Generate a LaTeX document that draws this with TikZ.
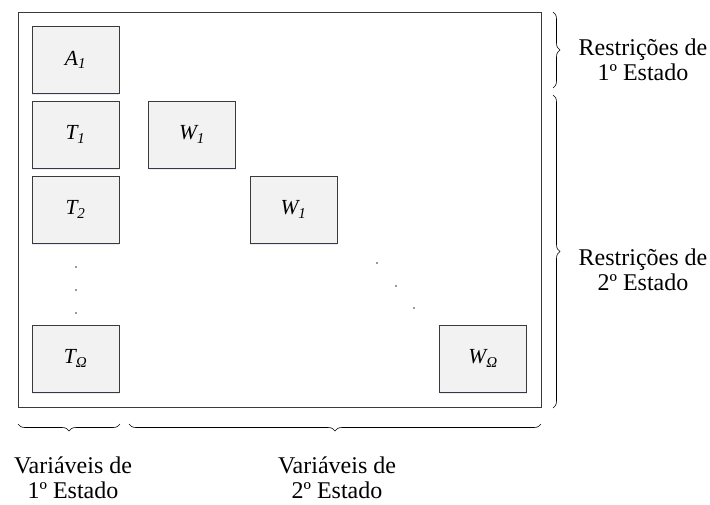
\documentclass[tikz,border=0pt]{standalone}
\usepackage{fontspec}
\setmainfont{Liberation Serif}
\usepackage{tikz}
\usetikzlibrary{positioning, decorations.pathreplacing, shadows}

\definecolor{boxfill}{HTML}{F2F2F2}
\definecolor{boxline}{HTML}{3A3A3A}

\begin{document}
\begin{tikzpicture}[
    x=1pt, y=-1pt,
    block/.style={rectangle, draw=boxline, line width=0.9pt, fill=boxfill,
        minimum width=87pt, minimum height=67pt, inner sep=0pt,
        font=\fontsize{21.5}{24}\selectfont\itshape,
        drop shadow={shadow xshift=0pt, shadow yshift=-1.5pt, fill=blue!25, opacity=0.35}},
    label/.style={align=center, font=\fontsize{24}{25}\selectfont, inner sep=0pt},
    brace/.style={decorate, decoration={brace, amplitude=7pt}, line width=0.6pt},
    dot/.style={circle, fill=black!80, inner sep=0pt, minimum size=1.6pt}
]
\useasboundingbox (0,0) rectangle (710,504);
% moldura da matriz
\draw[boxline, line width=0.9pt] (18,12) rectangle (541,407);

% blocos
\node[block] (a1) at (75.5,60) {A\textsubscript{1}};
\node[block] (t1) at (75.5,134.5) {T\textsubscript{1}};
\node[block] (w1) at (192,134.5) {W\textsubscript{1}};
\node[block] (t2) at (75.5,209.5) {T\textsubscript{2}};
\node[block] (w2) at (293.5,209.5) {W\textsubscript{1}};
\node[block] (tom) at (75.5,358.5) {T\textsubscript{Ω}};
\node[block] (wom) at (483,358.5) {W\textsubscript{Ω}};

% reticencias
\node[dot] (v1) at (76,267) {};
\node[dot] (v2) at (76,290) {};
\node[dot] (v3) at (76,313) {};
\node[dot] (d1) at (377,263) {};
\node[dot] (d2) at (396,286) {};
\node[dot] (d3) at (414,308) {};

% chaves laterais
\coordinate (r1a) at (553,12);
\coordinate (r1b) at (553,88);
\coordinate (r2a) at (553,95);
\coordinate (r2b) at (553,408);
\draw[brace] (r1a) -- (r1b);
\draw[brace] (r2a) -- (r2b);
\node[label, anchor=base] (rest1) at (643,80) {Restrições de\\1º Estado};
\node[label, anchor=base] (rest2) at (643,290) {Restrições de\\2º Estado};

% chaves inferiores
\coordinate (b1a) at (120,424);
\coordinate (b1b) at (18,424);
\coordinate (b2a) at (541,424);
\coordinate (b2b) at (129,424);
\draw[brace] (b1a) -- (b1b);
\draw[brace] (b2a) -- (b2b);
\node[label, anchor=base] (var1) at (73,498) {Variáveis de\\1º Estado};
\node[label, anchor=base] (var2) at (337,498) {Variáveis de\\2º Estado};
\end{tikzpicture}
\end{document}
